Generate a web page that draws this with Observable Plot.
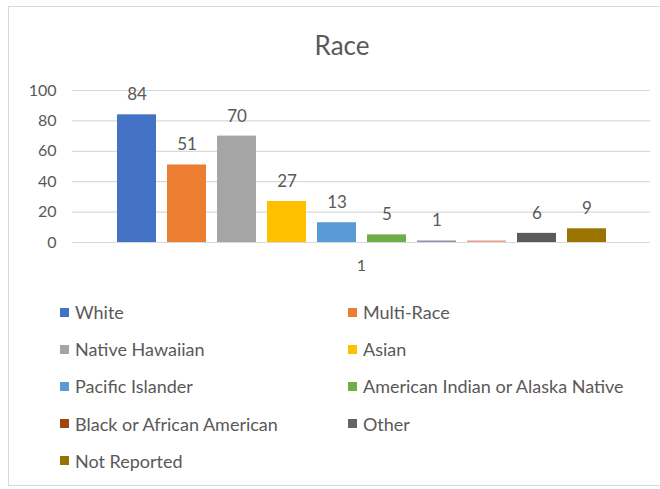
<!DOCTYPE html>
<html>
<head>
<meta charset="utf-8">
<script src="https://cdn.jsdelivr.net/npm/d3@7"></script>
<script src="https://cdn.jsdelivr.net/npm/@observablehq/plot@0.6"></script>
<style>
  html, body { margin: 0; padding: 0; background: #ffffff; }
  #wrap { position: relative; width: 660px; height: 489px; overflow: hidden; background: #ffffff; font-family: Lato, "Open Sans", sans-serif; color: #595959; }
  #frame { position: absolute; left: 8px; top: 6px; width: 700px; height: 480px; border: 1px solid #d9d9d9; box-sizing: border-box; }
  #title { position: absolute; left: 8px; top: 28px; width: 668px; text-align: center; font-size: 26px; line-height: 34px; color: #595959; }
  #chart { position: absolute; left: 0; top: 70px; }
  #legend { position: absolute; left: 60px; top: 293.5px; display: grid; grid-template-columns: 288px auto; grid-auto-rows: 37.2px; font-size: 18px; color: #595959; }
  .item { display: flex; align-items: center; white-space: nowrap; }
  .sw { width: 9px; height: 9px; margin-right: 6px; flex: none; }
</style>
</head>
<body>
<div id="wrap">
  <div id="frame"></div>
  <div id="title">Race</div>
  <div id="chart"></div>
  <div id="legend"></div>
</div>
<script>
// Data
const categoryGroup = ["1"];
const barIds = ["White", "Multi-Race", "Native Hawaiian", "Asian", "Pacific Islander",
  "American Indian or Alaska Native", "Unnamed", "Black or African American", "Other", "Not Reported"];
const counts = [84, 51, 70, 27, 13, 5, 1, 1, 6, 9];
const shownLabels = ["84", "51", "70", "27", "13", "5", "1", null, "6", "9"];
const barColors = ["#4472c4", "#ed7d31", "#a5a5a5", "#ffc000", "#5b9bd5",
  "#70ad47", "#8d96a8", "#e9a088", "#5b5b5b", "#9a7300"];
const legendNames = ["White", "Multi-Race", "Native Hawaiian", "Asian", "Pacific Islander",
  "American Indian or Alaska Native", "Black or African American", "Other", "Not Reported"];
const legendColors = ["#4472c4", "#ed7d31", "#a5a5a5", "#ffc000", "#5b9bd5",
  "#70ad47", "#9e480e", "#636363", "#997300"];
const yTicks = [0, 20, 40, 60, 80, 100];

const data = barIds.map((id, i) => ({ group: categoryGroup[0], id, count: counts[i], label: shownLabels[i] }));

const chart = Plot.plot({
  width: 660,
  height: 220,
  marginTop: 20,
  marginBottom: 48,
  marginLeft: 72,
  marginRight: 10,
  style: { fontFamily: "Lato, 'Open Sans', sans-serif", fontSize: "16px", color: "#595959", background: "transparent" },
  fx: { domain: categoryGroup, padding: 0, label: null },
  x: { domain: barIds, axis: null, paddingInner: 0.22, paddingOuter: 0.89 },
  y: { domain: [0, 100], label: null },
  color: { domain: barIds, range: barColors },
  marks: [
    Plot.gridY(yTicks, { stroke: "#d9d9d9", strokeOpacity: 1, strokeWidth: 1.2 }),
    Plot.barY(data, { fx: "group", x: "id", y: "count", fill: "id" }),
    Plot.text(data.filter(d => d.label != null), { fx: "group", x: "id", y: "count", text: "label", dy: -20, fill: "#595959", fontSize: 17 }),
    Plot.axisY(yTicks, { tickSize: 0, tickPadding: 16, fontSize: 16, label: null, fill: "#595959" }),
    Plot.axisFx({ anchor: "bottom", tickSize: 0, tickPadding: 17, fontSize: 16, label: null, fill: "#595959" })
  ]
});
document.getElementById("chart").appendChild(chart);

const legend = document.getElementById("legend");
legendNames.forEach((name, i) => {
  const item = document.createElement("div");
  item.className = "item";
  const sw = document.createElement("span");
  sw.className = "sw";
  sw.style.background = legendColors[i];
  const t = document.createElement("span");
  t.textContent = name;
  item.appendChild(sw);
  item.appendChild(t);
  legend.appendChild(item);
});
</script>
</body>
</html>
